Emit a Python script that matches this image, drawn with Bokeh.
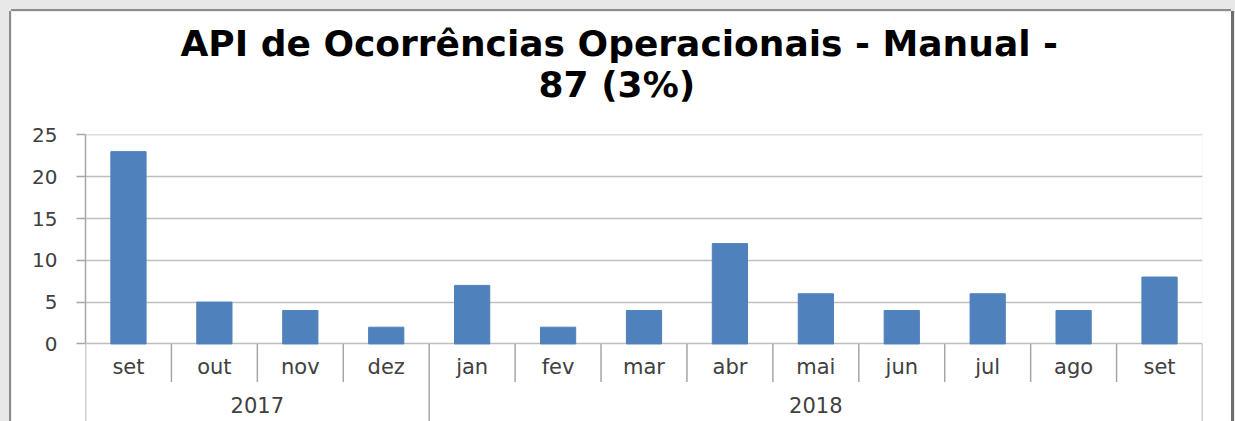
from bokeh.plotting import figure
from bokeh.models import FactorRange, Range1d, FixedTicker, Title, ColumnDataSource
from bokeh.core.properties import value
from bokeh.embed import file_html
from bokeh.resources import INLINE

# ---- data ----
years = ["2017"] * 4 + ["2018"] * 9
months = ["set", "out", "nov", "dez", "jan", "fev", "mar", "abr", "mai", "jun", "jul", "ago", "set"]
counts = [23, 5, 4, 2, 7, 2, 4, 12, 6, 4, 6, 4, 8]
year_groups = ["2017", "2018"]
y_ticks = [0, 5, 10, 15, 20, 25]
title_line1 = "API de Ocorrências Operacionais - Manual -"
title_line2 = "87 (3%)"

FONT = "DejaVu Sans"
GRAY = "#a6a6a6"

factors = list(zip(years, months))
x_range = FactorRange(*factors, group_padding=0, factor_padding=0,
                      subgroup_padding=0, range_padding=0)

p = figure(width=1220, height=410, x_range=x_range, y_range=Range1d(-9.28, 25.05),
           output_backend="svg", toolbar_location=None, x_axis_location=None,
           title=None, min_border_left=74, min_border_right=29,
           min_border_top=123, min_border_bottom=0)
p.outline_line_color = None
p.background_fill_color = "white"
p.border_fill_color = "white"
p.styles = {"box-shadow": "-2px 0 0 0 #8c8c8c, 0 -2px 0 0 #8c8c8c, 3px 0 0 0 #6e6e6e"}

# titles
p.add_layout(Title(text=title_line2, align="left", offset=453, text_font=FONT,
                   text_font_size="36px", text_font_style="bold", text_color="black",
                   standoff=60), "above")
p.add_layout(Title(text=title_line1, align="left", offset=95, text_font=FONT,
                   text_font_size="36px", text_font_style="bold", text_color="black",
                   standoff=-64), "above")

# y axis
ax = p.yaxis[0]
ax.ticker = FixedTicker(ticks=y_ticks)
ax.bounds = (0, 25)
ax.axis_line_color = GRAY
ax.axis_line_width = 1.5
ax.major_tick_line_color = GRAY
ax.major_tick_line_width = 1.5
ax.major_tick_out = 9
ax.major_tick_in = 0
ax.minor_tick_line_color = None
ax.major_label_text_font = FONT
ax.major_label_text_font_size = "20px"
ax.major_label_text_color = "#404040"
ax.major_label_standoff = 19

p.ygrid.grid_line_color = "#bfbfbf"
p.ygrid.grid_line_width = 1.5
p.ygrid.bounds = (0, 25)
p.xgrid.grid_line_color = None

# bars
src = ColumnDataSource(dict(x=factors, top=counts, month=months))
p.vbar(x="x", top="top", width=0.41, source=src, fill_color="#4f81bd",
       line_color="#4f81bd")

# category labels
p.text(x="x", y=-2.75, text="month", source=src, text_font=value(FONT),
       text_font_size="21px", text_color="#404040", text_align="center",
       text_baseline="alphabetic")

# year group labels and separators
n_per_year = [years.count(y) for y in year_groups]
bounds = [0]
for n in n_per_year:
    bounds.append(bounds[-1] + n)
centers = [(bounds[i] + bounds[i + 1]) / 2 for i in range(len(year_groups))]
p.text(x=centers, y=[-7.3] * len(year_groups), text=year_groups, text_font=value(FONT),
       text_font_size="21px", text_color="#404040", text_align="center",
       text_baseline="alphabetic")

month_seps = [i for i in range(1, len(months)) if i not in bounds]
p.segment(x0=month_seps, y0=[0] * len(month_seps), x1=month_seps,
          y1=[-4.55] * len(month_seps), line_color=GRAY, line_width=1.5)
p.segment(x0=bounds, y0=[0] * len(bounds), x1=bounds, y1=[-9.28] * len(bounds),
          line_color=GRAY, line_width=1.5)

html = file_html(p, INLINE)
html = html.replace("<body>", '<body style="background-color:#e8e8e8; padding:11px 0 0 11px">')
open("out.html", "w").write(html)
